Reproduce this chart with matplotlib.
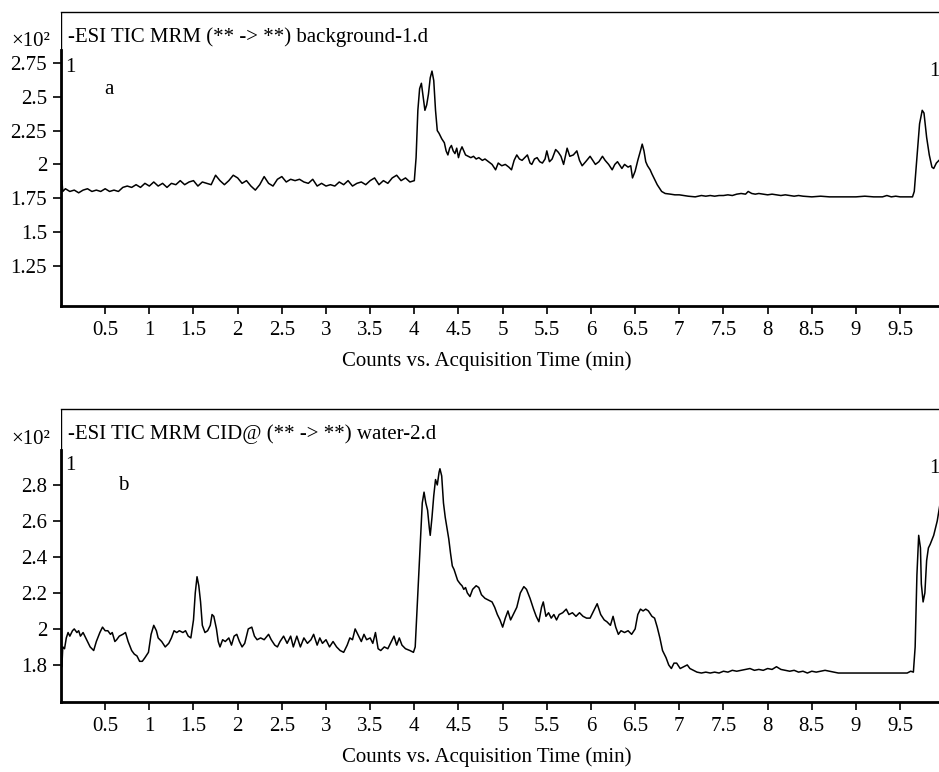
import matplotlib
matplotlib.use("Agg")
import matplotlib.pyplot as plt

plt.rcParams['font.family'] = ['Liberation Serif', 'DejaVu Serif']
plt.rcParams['font.size'] = 15

# ---- data (time in min, counts x10^2) ----
time_a = [0.00, 0.01, 0.02, 0.05, 0.10, 0.15, 0.20, 0.25, 0.30, 0.35, 0.40, 0.45, 0.50, 0.55, 0.60, 0.65,
          0.70, 0.75, 0.80, 0.85, 0.90, 0.95, 1.00, 1.05, 1.10, 1.15, 1.20, 1.25, 1.30, 1.35, 1.40, 1.45,
          1.50, 1.55, 1.60, 1.65, 1.70, 1.75, 1.80, 1.85, 1.90, 1.95, 2.00, 2.05, 2.10, 2.15, 2.20, 2.25,
          2.30, 2.35, 2.40, 2.45, 2.50, 2.55, 2.60, 2.65, 2.70, 2.75, 2.80, 2.85, 2.90, 2.95, 3.00, 3.05,
          3.10, 3.15, 3.20, 3.25, 3.30, 3.35, 3.40, 3.45, 3.50, 3.55, 3.60, 3.65, 3.70, 3.75, 3.80, 3.85,
          3.90, 3.95, 4.00, 4.02, 4.04, 4.06, 4.08, 4.10, 4.12, 4.14, 4.16, 4.18, 4.20, 4.22, 4.24, 4.26,
          4.28, 4.31, 4.34, 4.36, 4.38, 4.40, 4.42, 4.44, 4.46, 4.48, 4.50, 4.52, 4.54, 4.56, 4.58, 4.61,
          4.64, 4.67, 4.70, 4.73, 4.77, 4.80, 4.84, 4.88, 4.92, 4.95, 4.99, 5.03, 5.07, 5.10, 5.13, 5.16,
          5.19, 5.22, 5.25, 5.28, 5.31, 5.33, 5.36, 5.39, 5.42, 5.45, 5.48, 5.50, 5.53, 5.56, 5.60, 5.63,
          5.66, 5.69, 5.73, 5.76, 5.80, 5.84, 5.87, 5.90, 5.94, 5.99, 6.02, 6.05, 6.09, 6.13, 6.16, 6.20,
          6.24, 6.27, 6.30, 6.33, 6.35, 6.38, 6.42, 6.45, 6.47, 6.50, 6.53, 6.56, 6.58, 6.60, 6.62, 6.64,
          6.67, 6.69, 6.72, 6.75, 6.77, 6.80, 6.84, 6.90, 6.95, 7.00, 7.05, 7.10, 7.18, 7.25, 7.30, 7.35,
          7.40, 7.45, 7.50, 7.55, 7.60, 7.65, 7.70, 7.75, 7.78, 7.82, 7.86, 7.90, 7.95, 8.00, 8.05, 8.10,
          8.15, 8.20, 8.25, 8.30, 8.35, 8.40, 8.50, 8.60, 8.70, 8.80, 8.90, 9.00, 9.10, 9.20, 9.30, 9.35,
          9.40, 9.45, 9.50, 9.60, 9.64, 9.66, 9.69, 9.72, 9.75, 9.77, 9.80, 9.83, 9.86, 9.88, 9.91, 9.94,
          9.96]
counts_a = [1.86, 1.88, 1.80, 1.82, 1.80, 1.81, 1.79, 1.81, 1.82, 1.80, 1.81, 1.80, 1.82, 1.80, 1.81, 1.80,
            1.83, 1.84, 1.83, 1.85, 1.83, 1.86, 1.84, 1.87, 1.84, 1.86, 1.83, 1.86, 1.85, 1.88, 1.85, 1.87,
            1.88, 1.84, 1.87, 1.86, 1.85, 1.92, 1.88, 1.85, 1.88, 1.92, 1.90, 1.86, 1.88, 1.84, 1.81, 1.85,
            1.91, 1.86, 1.84, 1.89, 1.91, 1.87, 1.89, 1.88, 1.89, 1.87, 1.86, 1.89, 1.84, 1.86, 1.84, 1.85,
            1.84, 1.87, 1.85, 1.88, 1.84, 1.86, 1.87, 1.85, 1.88, 1.90, 1.85, 1.88, 1.86, 1.90, 1.92, 1.88,
            1.90, 1.87, 1.88, 2.05, 2.40, 2.56, 2.60, 2.50, 2.40, 2.44, 2.52, 2.64, 2.69, 2.62, 2.40, 2.25,
            2.23, 2.19, 2.16, 2.10, 2.07, 2.12, 2.14, 2.10, 2.08, 2.12, 2.05, 2.10, 2.13, 2.10, 2.07, 2.06,
            2.05, 2.06, 2.04, 2.05, 2.03, 2.04, 2.02, 2.00, 1.96, 2.01, 1.99, 2.00, 1.98, 1.96, 2.03, 2.07,
            2.04, 2.03, 2.05, 2.07, 2.01, 2.00, 2.04, 2.05, 2.02, 2.01, 2.04, 2.10, 2.02, 2.04, 2.11, 2.09,
            2.06, 2.00, 2.12, 2.06, 2.07, 2.10, 2.03, 1.99, 2.02, 2.06, 2.03, 2.00, 2.02, 2.06, 2.03, 2.00,
            1.96, 2.00, 2.02, 1.99, 1.97, 2.00, 1.98, 1.99, 1.90, 1.95, 2.03, 2.10, 2.15, 2.10, 2.02, 1.99,
            1.96, 1.93, 1.89, 1.85, 1.83, 1.80, 1.785, 1.78, 1.775, 1.775, 1.77, 1.765, 1.76, 1.77, 1.765, 1.77,
            1.765, 1.77, 1.77, 1.775, 1.77, 1.78, 1.785, 1.78, 1.80, 1.785, 1.78, 1.785, 1.78, 1.775, 1.78, 1.775,
            1.77, 1.775, 1.77, 1.765, 1.77, 1.765, 1.76, 1.765, 1.76, 1.76, 1.76, 1.76, 1.765, 1.76, 1.76, 1.77,
            1.76, 1.765, 1.76, 1.76, 1.76, 1.80, 2.05, 2.30, 2.40, 2.38, 2.20, 2.07, 1.98, 1.97, 2.01, 2.03,
            2.04]

time_b = [0.00, 0.01, 0.02, 0.04, 0.06, 0.08, 0.10, 0.13, 0.15, 0.18, 0.20, 0.22, 0.25, 0.27, 0.30, 0.33,
          0.37, 0.40, 0.44, 0.47, 0.50, 0.53, 0.56, 0.58, 0.61, 0.63, 0.66, 0.70, 0.73, 0.76, 0.80, 0.83,
          0.86, 0.89, 0.92, 0.95, 0.99, 1.02, 1.05, 1.08, 1.10, 1.14, 1.18, 1.22, 1.25, 1.28, 1.31, 1.34,
          1.38, 1.41, 1.44, 1.47, 1.50, 1.52, 1.54, 1.56, 1.58, 1.60, 1.63, 1.66, 1.69, 1.71, 1.73, 1.76,
          1.78, 1.80, 1.83, 1.86, 1.90, 1.93, 1.96, 1.99, 2.02, 2.05, 2.08, 2.12, 2.16, 2.19, 2.22, 2.26,
          2.30, 2.35, 2.38, 2.42, 2.45, 2.48, 2.52, 2.56, 2.60, 2.63, 2.67, 2.71, 2.75, 2.79, 2.83, 2.86,
          2.90, 2.93, 2.96, 3.00, 3.04, 3.08, 3.12, 3.16, 3.20, 3.24, 3.27, 3.30, 3.33, 3.36, 3.40, 3.43,
          3.46, 3.50, 3.53, 3.56, 3.59, 3.62, 3.66, 3.70, 3.74, 3.77, 3.80, 3.83, 3.86, 3.90, 3.95, 3.99,
          4.01, 4.04, 4.07, 4.09, 4.11, 4.13, 4.15, 4.17, 4.18, 4.20, 4.22, 4.24, 4.26, 4.28, 4.29, 4.31,
          4.33, 4.35, 4.37, 4.39, 4.41, 4.43, 4.45, 4.47, 4.49, 4.52, 4.54, 4.56, 4.58, 4.60, 4.63, 4.66,
          4.70, 4.73, 4.76, 4.80, 4.84, 4.88, 4.91, 4.94, 4.97, 5.00, 5.03, 5.06, 5.09, 5.12, 5.16, 5.20,
          5.24, 5.27, 5.31, 5.35, 5.38, 5.41, 5.44, 5.46, 5.49, 5.52, 5.55, 5.58, 5.61, 5.64, 5.68, 5.72,
          5.75, 5.79, 5.83, 5.87, 5.91, 5.95, 5.99, 6.03, 6.07, 6.11, 6.15, 6.18, 6.22, 6.25, 6.28, 6.31,
          6.34, 6.38, 6.42, 6.46, 6.50, 6.53, 6.56, 6.59, 6.62, 6.65, 6.69, 6.72, 6.75, 6.78, 6.81, 6.85,
          6.88, 6.91, 6.94, 6.97, 7.01, 7.05, 7.09, 7.12, 7.16, 7.20, 7.25, 7.30, 7.35, 7.40, 7.45, 7.50,
          7.55, 7.60, 7.65, 7.70, 7.75, 7.80, 7.85, 7.90, 7.95, 8.00, 8.05, 8.10, 8.15, 8.20, 8.25, 8.30,
          8.35, 8.40, 8.45, 8.50, 8.55, 8.60, 8.65, 8.70, 8.75, 8.80, 9.00, 9.20, 9.40, 9.58, 9.62, 9.65,
          9.67, 9.69, 9.71, 9.73, 9.74, 9.76, 9.78, 9.80, 9.82, 9.84, 9.88, 9.92, 9.96]
counts_b = [1.88, 1.79, 1.90, 1.89, 1.95, 1.98, 1.96, 1.99, 2.00, 1.98, 1.99, 1.96, 1.98, 1.96, 1.93, 1.90,
            1.88, 1.93, 1.98, 2.01, 1.99, 1.99, 1.97, 1.98, 1.93, 1.94, 1.96, 1.97, 1.98, 1.93, 1.88, 1.86,
            1.85, 1.82, 1.82, 1.84, 1.87, 1.97, 2.02, 1.99, 1.95, 1.93, 1.90, 1.92, 1.95, 1.99, 1.98, 1.99,
            1.98, 1.99, 1.96, 1.95, 2.05, 2.20, 2.29, 2.24, 2.15, 2.02, 1.98, 1.99, 2.02, 2.08, 2.07, 2.00,
            1.93, 1.90, 1.94, 1.93, 1.95, 1.91, 1.96, 1.97, 1.93, 1.90, 1.92, 2.00, 2.01, 1.96, 1.94, 1.95,
            1.94, 1.97, 1.94, 1.91, 1.90, 1.93, 1.96, 1.92, 1.96, 1.90, 1.96, 1.90, 1.95, 1.92, 1.94, 1.97,
            1.91, 1.95, 1.92, 1.94, 1.90, 1.93, 1.90, 1.88, 1.87, 1.91, 1.95, 1.94, 2.00, 1.97, 1.93, 1.97,
            1.94, 1.95, 1.92, 1.98, 1.89, 1.88, 1.90, 1.89, 1.93, 1.96, 1.91, 1.95, 1.91, 1.89, 1.88, 1.87,
            1.90, 2.20, 2.50, 2.70, 2.76, 2.70, 2.66, 2.56, 2.52, 2.62, 2.74, 2.83, 2.80, 2.87, 2.89, 2.85,
            2.70, 2.62, 2.56, 2.50, 2.42, 2.35, 2.33, 2.30, 2.27, 2.25, 2.24, 2.22, 2.23, 2.20, 2.18, 2.22,
            2.24, 2.23, 2.19, 2.17, 2.16, 2.15, 2.12, 2.08, 2.05, 2.01, 2.06, 2.10, 2.05, 2.08, 2.12, 2.20,
            2.235, 2.22, 2.17, 2.11, 2.07, 2.04, 2.12, 2.15, 2.07, 2.09, 2.06, 2.08, 2.05, 2.08, 2.09, 2.11,
            2.08, 2.09, 2.07, 2.09, 2.07, 2.06, 2.06, 2.10, 2.14, 2.08, 2.05, 2.04, 2.02, 2.07, 2.01, 1.97,
            1.99, 1.98, 1.99, 1.97, 2.00, 2.08, 2.11, 2.10, 2.11, 2.10, 2.07, 2.06, 2.01, 1.95, 1.88, 1.84,
            1.80, 1.78, 1.81, 1.81, 1.78, 1.79, 1.80, 1.78, 1.77, 1.76, 1.755, 1.76, 1.755, 1.76, 1.755, 1.765,
            1.76, 1.77, 1.765, 1.77, 1.775, 1.78, 1.77, 1.775, 1.77, 1.78, 1.775, 1.79, 1.775, 1.77, 1.765, 1.77,
            1.76, 1.765, 1.755, 1.765, 1.76, 1.765, 1.77, 1.765, 1.76, 1.755, 1.755, 1.755, 1.755, 1.755, 1.765, 1.76,
            1.90, 2.30, 2.52, 2.45, 2.25, 2.15, 2.20, 2.38, 2.45, 2.47, 2.52, 2.60, 2.72]

x_ticks = [0.5, 1, 1.5, 2, 2.5, 3, 3.5, 4, 4.5, 5, 5.5, 6, 6.5, 7, 7.5, 8, 8.5, 9, 9.5]
x_labels = ['0.5', '1', '1.5', '2', '2.5', '3', '3.5', '4', '4.5', '5', '5.5', '6', '6.5', '7', '7.5',
            '8', '8.5', '9', '9.5']
y_ticks_a = [1.25, 1.5, 1.75, 2, 2.25, 2.5, 2.75]
y_labels_a = ['1.25', '1.5', '1.75', '2', '2.25', '2.5', '2.75']
y_ticks_b = [1.8, 2, 2.2, 2.4, 2.6, 2.8]
y_labels_b = ['1.8', '2', '2.2', '2.4', '2.6', '2.8']

titles = ['-ESI TIC MRM (** -> **) background-1.d', '-ESI TIC MRM CID@ (** -> **) water-2.d']

W, H = 939, 772
fig = plt.figure(figsize=(W / 100, H / 100), dpi=100)


def px(x, y):
    return x / W, 1 - y / H


def chromatogram(top, bottom, tvals, cvals, ylim, axis_top, yt, yl, title, letter, letter_xy):
    ax = fig.add_axes([61 / W, 1 - bottom / H, (W - 61) / W, (bottom - top) / H])
    ax.plot(tvals, cvals, color='black', lw=1.1)
    ax.set_xlim(0, 9.94)
    ax.set_ylim(*ylim)
    ax.set_xticks(x_ticks)
    ax.set_xticklabels(x_labels)
    ax.set_yticks(yt)
    ax.set_yticklabels(yl)
    ax.tick_params(direction='out', length=6, width=1.2, pad=4)
    ax.tick_params(axis='x', pad=5)
    ax.spines['right'].set_visible(False)
    ax.spines['top'].set_linewidth(1.0)
    ax.spines['bottom'].set_linewidth(2.0)
    ax.spines['left'].set_linewidth(2.0)
    ax.spines['left'].set_bounds(ylim[0], axis_top)
    ax.axvline(0, color='black', lw=1.0)
    # x axis caption, a little left of the axes centre as in the original
    fig.text(*px(487, bottom + 55), 'Counts vs. Acquisition Time (min)', ha='center', va='center')
    fig.text(*px(68, top + 25), title, ha='left', va='center')
    fig.text(*px(50, top + 30), '×10²', ha='right', va='center')
    fig.text(*px(65, top + 56), '1', ha='left', va='center')
    fig.text(*px(929, top + 59), '1', ha='left', va='center')
    fig.text(*px(*letter_xy), letter, ha='left', va='center')
    return ax


chromatogram(12, 306, time_a, counts_a, (0.953, 3.127), 2.846, y_ticks_a, y_labels_a,
             titles[0], 'a', (104, 90))
chromatogram(409, 702, time_b, counts_b, (1.594, 3.222), 2.994, y_ticks_b, y_labels_b,
             titles[1], 'b', (118, 485))

fig.savefig('out.png', dpi=100)
